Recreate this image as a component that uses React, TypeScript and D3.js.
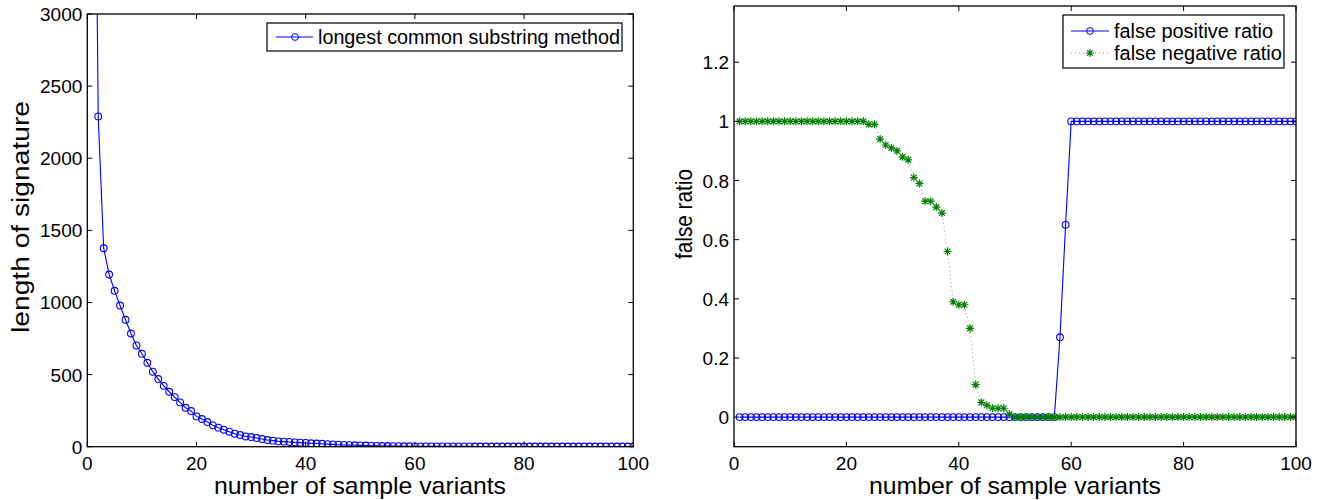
import React from "react";
import * as d3 from "d3";

// left panel: signature length vs number of sample variants
const variants = d3.range(1, 101);
const sigLength = [
	6200, 2290, 1376, 1194, 1081, 979, 880, 785, 702, 644,
	582, 520, 469, 422, 381, 344, 307, 270, 247, 210,
	192, 171, 148, 132, 118, 104, 90, 81, 71, 67,
	60, 53, 46, 42, 37, 35, 33, 30, 28, 26,
	24, 22, 20, 18, 16, 14, 12, 11, 10, 9,
	8, 7, 6, 5, 5, 4, 4, 3, 3, 2,
	2, 2, 2, 2, 2, 2, 2, 2, 2, 2,
	1, 1, 1, 1, 1, 1, 1, 1, 1, 1,
	1, 1, 1, 1, 1, 1, 1, 1, 1, 1,
	1, 1, 1, 1, 1, 1, 1, 1, 1, 1,
];

// right panel: false positive / false negative ratio
const falsePositive = variants.map((v) => (v <= 57 ? 0 : v === 58 ? 0.27 : v === 59 ? 0.65 : 1));
const falseNegative = [
	1, 1, 1, 1, 1, 1, 1, 1, 1, 1,
	1, 1, 1, 1, 1, 1, 1, 1, 1, 1,
	1, 1, 1, 0.99, 0.99, 0.94, 0.92, 0.91, 0.9, 0.88,
	0.87, 0.81, 0.79, 0.73, 0.73, 0.71, 0.69, 0.56, 0.39, 0.38,
	0.38, 0.3, 0.11, 0.05, 0.04, 0.03, 0.03, 0.03, 0.01, 0,
	0, 0, 0, 0, 0, 0, 0, 0, 0, 0,
	0, 0, 0, 0, 0, 0, 0, 0, 0, 0,
	0, 0, 0, 0, 0, 0, 0, 0, 0, 0,
	0, 0, 0, 0, 0, 0, 0, 0, 0, 0,
	0, 0, 0, 0, 0, 0, 0, 0, 0, 0,
];

const xTicks = [0, 20, 40, 60, 80, 100];
const leftYTicks = [0, 500, 1000, 1500, 2000, 2500, 3000];
const rightYTicks = [0, 0.2, 0.4, 0.6, 0.8, 1, 1.2];

const FONT = "'Liberation Sans', Arial, Helvetica, sans-serif";
const BLUE = "#0000ff";
const GREEN = "#008000";

const star = "M-4,0H4M0,-4V4M-2.9,-2.9L2.9,2.9M-2.9,2.9L2.9,-2.9";

function Frame({ x, y, xt, yt, id }) {
	const [x0, x1] = x.range();
	const [y0, y1] = y.range();
	const tl = 5;
	return (
		<g>
			<defs>
				<clipPath id={id}>
					<rect x={x0} y={y1} width={x1 - x0} height={y0 - y1} />
				</clipPath>
			</defs>
			<rect x={x0} y={y1} width={x1 - x0} height={y0 - y1} fill="none" stroke="#000" strokeWidth={1.3} />
			{xt.map((t) => (
				<g key={"x" + t}>
					<line x1={x(t)} x2={x(t)} y1={y0} y2={y0 - tl} stroke="#000" />
					<line x1={x(t)} x2={x(t)} y1={y1} y2={y1 + tl} stroke="#000" />
					<text x={x(t)} y={470} textAnchor="middle" fontSize={19}>{t}</text>
				</g>
			))}
			{yt.map((t) => (
				<g key={"y" + t}>
					<line x1={x0} x2={x0 + tl} y1={y(t)} y2={y(t)} stroke="#000" />
					<line x1={x1} x2={x1 - tl} y1={y(t)} y2={y(t)} stroke="#000" />
					<text x={x0 - 5} y={y(t) + 7} textAnchor="end" fontSize={19}>{String(t)}</text>
				</g>
			))}
		</g>
	);
}

export default function App() {
	const xL = d3.scaleLinear().domain([0, 100]).range([87.3, 633.3]);
	const yL = d3.scaleLinear().domain([0, 3000]).range([446.7, 14]);
	const xR = d3.scaleLinear().domain([0, 100]).range([734, 1296]);
	const yR = d3.scaleLinear().domain([-0.1, 1.39]).range([446.7, 6]);

	const lineL = d3.line<number>().x((d, i) => xL(variants[i])).y((d) => yL(d));
	const lineR = d3.line<number>().x((d, i) => xR(variants[i])).y((d) => yR(d));

	return (
		<svg width={1330} height={500} style={{ position: "absolute", left: 0, top: 0, background: "#fff" }} fontFamily={FONT}>
			<rect width={1330} height={500} fill="#fff" />

			{/* left panel */}
			<g clipPath="url(#clipL)">
				<path d={lineL(sigLength)} fill="none" stroke={BLUE} strokeWidth={1.1} />
				{sigLength.map((d, i) => (
					<circle key={i} cx={xL(variants[i])} cy={yL(d)} r={3.4} fill="none" stroke={BLUE} strokeWidth={1.1} />
				))}
			</g>
			<Frame x={xL} y={yL} xt={xTicks} yt={leftYTicks} id="clipL" />
			<text x={360} y={494} textAnchor="middle" fontSize={24} textLength={292} lengthAdjust="spacingAndGlyphs">number of sample variants</text>
			<text transform="translate(29,217) rotate(-90)" textAnchor="middle" fontSize={23} textLength={232} lengthAdjust="spacingAndGlyphs">length of signature</text>
			<g>
				<rect x={267} y={23} width={355} height={28} fill="#fff" stroke="#000" strokeWidth={1.2} />
				<line x1={276} x2={313} y1={37} y2={37} stroke={BLUE} />
				<circle cx={295} cy={37} r={3.4} fill="none" stroke={BLUE} />
				<text x={318} y={44} fontSize={20} textLength={302} lengthAdjust="spacingAndGlyphs">longest common substring method</text>
			</g>

			{/* right panel */}
			<g clipPath="url(#clipR)">
				<path d={lineR(falsePositive)} fill="none" stroke={BLUE} strokeWidth={1.1} />
				{falsePositive.map((d, i) => (
					<circle key={i} cx={xR(variants[i])} cy={yR(d)} r={3.4} fill="none" stroke={BLUE} strokeWidth={1.1} />
				))}
				<path d={lineR(falseNegative)} fill="none" stroke={GREEN} strokeWidth={1} strokeDasharray="1,3" opacity={0.6} />
				{falseNegative.map((d, i) => (
					<path key={i} d={star} transform={`translate(${xR(variants[i])},${yR(d)})`} fill="none" stroke={GREEN} strokeWidth={1.2} />
				))}
			</g>
			<Frame x={xR} y={yR} xt={xTicks} yt={rightYTicks} id="clipR" />
			<text x={1015} y={494} textAnchor="middle" fontSize={24} textLength={292} lengthAdjust="spacingAndGlyphs">number of sample variants</text>
			<text transform="translate(692,214) rotate(-90)" textAnchor="middle" fontSize={24} textLength={90} lengthAdjust="spacingAndGlyphs">false ratio</text>
			<g>
				<rect x={1063} y={15} width={221} height={53} fill="#fff" stroke="#000" strokeWidth={1.2} />
				<line x1={1071} x2={1109} y1={31} y2={31} stroke={BLUE} />
				<circle cx={1090} cy={31} r={3.4} fill="none" stroke={BLUE} />
				<text x={1114} y={38} fontSize={20} textLength={159} lengthAdjust="spacingAndGlyphs">false positive ratio</text>
				<line x1={1071} x2={1109} y1={53} y2={53} stroke={GREEN} strokeDasharray="1,3" opacity={0.6} />
				<path d={star} transform="translate(1090,53)" fill="none" stroke={GREEN} strokeWidth={1.2} />
				<text x={1114} y={60} fontSize={20}>false negative ratio</text>
			</g>
		</svg>
	);
}
